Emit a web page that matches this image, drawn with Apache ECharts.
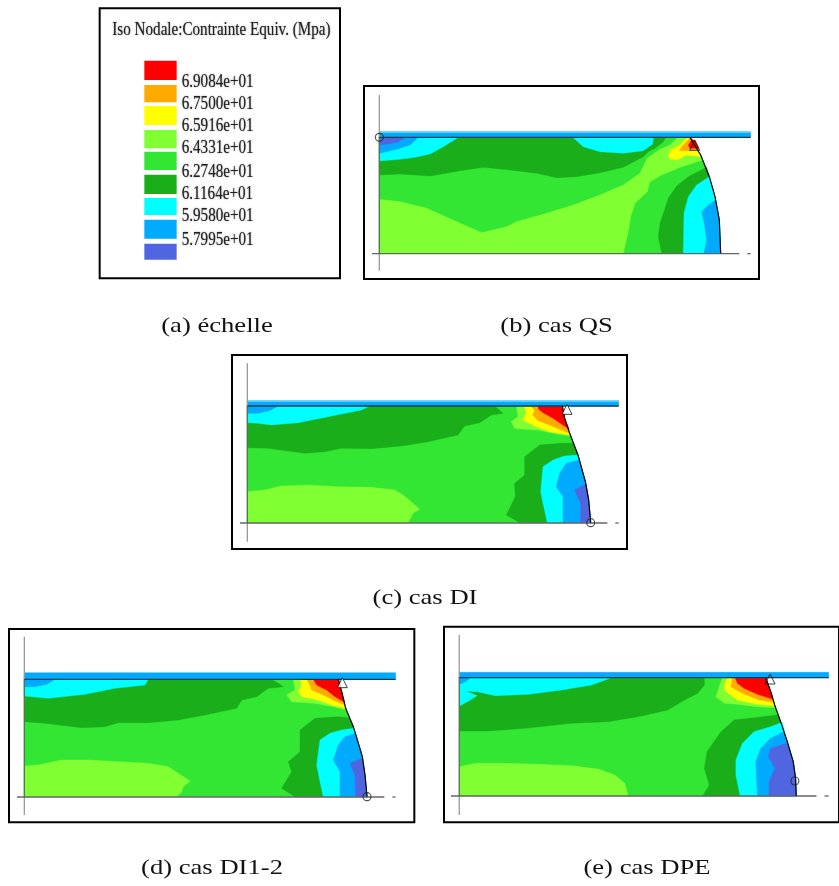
<!DOCTYPE html>
<html><head><meta charset="utf-8">
<style>html,body{margin:0;padding:0;background:#fff}#c{width:839px;height:886px}</style>
<script src="https://cdn.jsdelivr.net/npm/echarts@6/dist/echarts.min.js"></script>
</head><body><div id="c"></div>
<script>
const palette = {red:'#ff0000',orange:'#ffaa00',yellow:'#ffff00',lime:'#80ff33',green:'#33e633',dark:'#1aae1a',cyan:'#00ffff',blue:'#00aaff',indigo:'#5066e0'};
const legendTitle = 'Iso Nodale:Contrainte Equiv. (Mpa)';
const legendKeys = ['red','orange','yellow','lime','green','dark','cyan','blue','indigo'];
const legendTop = [182,255,318,390,455,524,594,659,731];
const legendBottom = [240,307,375,445,510,582,645,716,779];
const legendTicks = ['6.9084e+01','6.7500e+01','6.5916e+01','6.4331e+01','6.2748e+01','6.1164e+01','5.9580e+01','5.7995e+01'];
const legendTickY = [248,312,380,446,516,582,650,720];
const captions = ['(a) échelle','(b) cas QS','(c) cas DI','(d) cas DI1-2','(e) cas DPE'];

// Iso-stress regions, in reading units of each panel (drawn back to front)
const qsEdge = [[990,172],[1022,225],[1048,290],[1065,350],[1078,420],[1082,520]];
const qsBands = [
 ['green',[[58,172],[990,172],[1022,225],[1048,290],[1065,350],[1078,420],[1082,520],[58,520]]],
 ['lime',[[58,358],[120,365],[200,385],[290,425],[365,458],[440,440],[470,425],[560,400],[640,375],[720,345],[790,315],[840,280],[862,235],[900,208],[930,195],[955,172],[990,172],[1028,240],[960,262],[905,285],[870,305],[862,335],[825,370],[812,410],[806,450],[790,520],[58,520]]],
 ['dark',[[58,172],[918,172],[910,185],[885,205],[865,215],[850,230],[790,262],[720,278],[650,290],[590,293],[530,280],[450,270],[370,262],[300,272],[210,288],[120,282],[58,285]]],
 ['cyan',[[58,172],[295,172],[250,200],[210,222],[165,232],[120,238],[58,243]]],
 ['blue',[[58,172],[175,172],[150,195],[110,208],[58,220]]],
 ['indigo',[[58,172],[138,172],[115,185],[85,192],[58,195]]],
 ['cyan',[[638,172],[880,172],[878,192],[850,212],[790,220],[720,215],[670,200]]],
 ['yellow',[[925,228],[932,210],[960,195],[982,172],[992,172],[1025,230],[980,225],[955,238],[930,238]]],
 ['orange',[[958,212],[965,200],[982,182],[992,172],[995,172],[1018,208],[990,212]]],
 ['red',[[985,195],[995,180],[1005,180],[1017,205],[990,205]]],
 ['dark',[[905,520],[895,470],[900,430],[912,395],[925,355],[950,318],[985,290],[1040,262],[1048,290],[1065,350],[1078,420],[1082,520]]],
 ['cyan',[[970,520],[972,400],[985,350],[1010,315],[1048,290],[1065,350],[1078,420],[1082,520]]],
 ['blue',[[1032,520],[1040,480],[1032,425],[1025,395],[1045,375],[1066,360],[1078,420],[1082,520]]]
];
const diEdge = [[1003,168],[1010,205],[1025,250],[1050,315],[1072,395],[1082,450],[1088,518]];
const diBands = [
 ['green',[[58,168],[1003,168],[1010,205],[1025,250],[1050,315],[1072,395],[1082,450],[1088,518],[58,518]]],
 ['lime',[[58,425],[110,420],[160,408],[240,405],[330,410],[430,412],[500,420],[525,435],[555,460],[575,478],[555,490],[540,518],[58,518]]],
 ['dark',[[58,168],[800,168],[825,190],[790,195],[755,218],[710,228],[690,255],[600,275],[520,288],[430,296],[340,295],[290,305],[230,310],[120,295],[58,293]]],
 ['cyan',[[58,168],[425,168],[400,180],[300,200],[210,218],[130,225],[90,220],[58,218]]],
 ['blue',[[58,168],[150,168],[125,182],[90,190],[58,190]]],
 ['lime',[[865,168],[1003,168],[1010,205],[1027,258],[975,250],[930,240],[890,238],[860,235],[850,215],[870,200]]],
 ['yellow',[[888,168],[1003,168],[1010,205],[1026,255],[965,245],[920,228],[885,210],[895,190]]],
 ['orange',[[908,168],[1003,168],[1010,205],[1025,250],[1000,240],[965,225],[930,212],[915,195],[920,180]]],
 ['red',[[930,168],[1003,168],[1010,205],[1024,238],[1000,222],[975,205],[945,188],[932,178]]],
 ['dark',[[875,518],[835,495],[862,440],[860,400],[890,375],[890,320],[935,285],[1000,280],[1035,280],[1050,315],[1072,395],[1082,450],[1088,518]]],
 ['cyan',[[958,518],[945,460],[938,425],[945,350],[975,330],[1010,318],[1050,315],[1072,395],[1082,450],[1088,518]]],
 ['blue',[[1005,518],[1005,440],[985,410],[995,370],[1015,340],[1054,330],[1072,395],[1082,450],[1088,518]]],
 ['indigo',[[1058,518],[1058,460],[1040,420],[1075,402],[1082,450],[1088,518]]]
];
const di12Edge = [[1000,163],[1010,200],[1022,250],[1045,305],[1072,395],[1080,450],[1086,515]];
const di12Bands = [
 ['green',[[58,163],[1000,163],[1010,200],[1022,250],[1045,305],[1072,395],[1080,450],[1086,515],[58,515]]],
 ['lime',[[58,423],[100,420],[170,405],[250,405],[340,410],[430,415],[490,425],[520,445],[555,468],[535,485],[530,500],[515,515],[58,515]]],
 ['dark',[[58,163],[800,163],[835,185],[790,190],[755,215],[710,225],[695,250],[600,270],[520,285],[430,293],[340,293],[300,305],[230,308],[120,295],[58,290]]],
 ['cyan',[[58,163],[430,163],[420,180],[330,190],[240,208],[130,220],[58,213]]],
 ['blue',[[58,163],[150,163],[125,178],[90,185],[58,185]]],
 ['lime',[[865,163],[1000,163],[1010,200],[1024,255],[985,245],[930,235],[860,230],[845,210],[870,195]]],
 ['yellow',[[885,163],[1000,163],[1010,200],[1023,250],[980,240],[940,225],[890,215],[880,200],[890,180]]],
 ['orange',[[905,163],[1000,163],[1010,200],[1021,240],[990,228],[955,210],[920,195],[915,180]]],
 ['red',[[925,163],[1000,163],[1010,200],[1019,232],[990,215],[965,195],[935,180]]],
 ['dark',[[870,515],[830,490],[860,440],[850,410],[885,380],[885,315],[930,280],[1000,275],[1030,278],[1045,305],[1072,395],[1080,450],[1086,515]]],
 ['cyan',[[955,515],[945,470],[935,420],[945,345],[975,325],[1010,315],[1047,310],[1072,395],[1080,450],[1086,515]]],
 ['blue',[[1005,515],[1005,440],[985,405],[1000,360],[1020,335],[1052,325],[1072,395],[1080,450],[1086,515]]],
 ['indigo',[[1052,515],[1050,450],[1035,415],[1070,400],[1080,450],[1086,515]]]
];
const dpeEdge = [[985,158],[1002,205],[1012,240],[1030,290],[1050,350],[1068,410],[1075,460],[1077,513]];
const dpeBands = [
 ['green',[[62,158],[985,158],[1002,205],[1012,240],[1030,290],[1050,350],[1068,410],[1075,460],[1077,513],[62,513]]],
 ['lime',[[62,425],[110,415],[200,415],[300,418],[400,422],[480,432],[530,450],[560,475],[570,513],[62,513]]],
 ['dark',[[62,158],[800,158],[800,180],[780,205],[740,225],[690,255],[600,275],[510,290],[400,295],[260,310],[150,318],[62,318]]],
 ['cyan',[[62,158],[520,158],[460,180],[370,195],[270,208],[170,212],[115,200],[80,198],[115,212],[85,230],[62,243]]],
 ['blue',[[62,158],[95,158],[80,170],[62,178]]],
 ['lime',[[855,158],[985,158],[1002,205],[1014,248],[960,245],[900,238],[860,235],[835,215],[845,185]]],
 ['yellow',[[870,158],[985,158],[1002,205],[1013,242],[960,238],[900,225],[865,200],[860,185]]],
 ['orange',[[885,158],[985,158],[1002,205],[1010,232],[965,225],[915,205],[880,185]]],
 ['red',[[893,158],[985,158],[1002,205],[1005,222],[960,208],[920,190],[900,175]]],
 ['dark',[[795,513],[815,480],[800,430],[808,380],[850,320],[890,285],[950,278],[1020,270],[1030,290],[1050,350],[1068,410],[1075,460],[1077,513]]],
 ['cyan',[[908,513],[895,450],[895,405],[915,355],[950,320],[1000,305],[1035,292],[1050,350],[1068,410],[1075,460],[1077,513]]],
 ['blue',[[960,513],[955,410],[970,370],[1000,340],[1040,320],[1050,350],[1068,410],[1075,460],[1077,513]]],
 ['indigo',[[995,513],[995,470],[1013,430],[993,395],[1000,370],[1048,355],[1068,410],[1075,460],[1077,513]]]
];

// panels: crop origin, frame range, geometry of the part
const panels = [
 {o:[360,80], x:[12,1197], y:[18,597], bands:qsBands, edge:qsEdge, x0:58, top:172, bot:521, strip:[155,170], sheen:true, axisV:[45,572], end:1172, circle:[58,172], tri:[1004,196], triFill:'transparent'},
 {o:[228,350], x:[12,1197], y:[15,597], bands:diBands, edge:diEdge, x0:58, top:168, bot:519, strip:[152,167], sheen:true, axisV:[40,575], end:1172, circle:[1088,518], tri:[1017,178], triFill:'#fff'},
 {o:[5,625], x:[12,1228], y:[12,592], bands:di12Bands, edge:di12Edge, x0:58, top:163, bot:516, strip:[143,161], sheen:false, axisV:[35,570], end:1172, circle:[1086,515], tri:[1012,173], triFill:'#fff'},
 {o:[439,625], x:[15,1206], y:[5,592], bands:dpeBands, edge:dpeEdge, x0:61, top:158, bot:513, strip:[142,156], sheen:false, axisV:[30,570], end:1175, circle:[1073,468], tri:[998,162], triFill:'transparent'}
];
const legendPanel = {o:[95,0], x:[14,735], y:[25,835]};

const grids=[], xAxes=[], yAxes=[], series=[];
function addGrid(p){
  const i=grids.length;
  grids.push({show:true,borderColor:'#000',borderWidth:2,backgroundColor:'#fff',
    left:p.o[0]+p.x[0]/3, top:p.o[1]+p.y[0]/3, width:(p.x[1]-p.x[0])/3, height:(p.y[1]-p.y[0])/3});
  xAxes.push({type:'value',gridIndex:i,min:p.x[0],max:p.x[1],show:false});
  yAxes.push({type:'value',gridIndex:i,min:p.y[0],max:p.y[1],inverse:true,show:false});
  return i;
}
function fills(i,list){
  series.push({type:'custom',xAxisIndex:i,yAxisIndex:i,silent:true,animation:false,clip:false,
    data:list.map((_,k)=>[k]),
    renderItem:(params,api)=>{const b=list[api.value(0)];
      return {type:'polygon',shape:{points:b[1].map(q=>api.coord(q))},
        style:{fill:palette[b[0]]||b[0],stroke:palette[b[0]]||b[0],lineWidth:0.4}};}});
}
function strokes(i,list){
  series.push({type:'custom',xAxisIndex:i,yAxisIndex:i,silent:true,animation:false,clip:false,
    data:list.map((_,k)=>[k]),
    renderItem:(params,api)=>{const s=list[api.value(0)];
      return {type:'polyline',shape:{points:s.pts.map(q=>api.coord(q))},
        style:{fill:'none',stroke:s.c,lineWidth:s.w}};}});
}
panels.forEach(p=>{
  const i=addGrid(p);
  const plate=[['#00aaff',[[p.x0,p.strip[0]],[p.end,p.strip[0]],[p.end,p.top],[p.x0,p.top]]]];
  if(p.sheen) plate.push(['#66d8ff',[[p.x0,p.strip[0]],[p.end,p.strip[0]],[p.end,p.strip[0]+3],[p.x0,p.strip[0]+3]]]);
  fills(i,p.bands.concat(plate));
  strokes(i,[
    {pts:[[p.x0,p.axisV[0]],[p.x0,p.axisV[1]]],c:'#9a9a9a',w:1.3},
    {pts:[[36,p.bot],[1138,p.bot]],c:'#666',w:1.3},
    {pts:[[1162,p.bot],[p.end,p.bot]],c:'#666',w:1.3},
    {pts:[[p.x0,p.top],[p.end,p.top]],c:'#143c4c',w:1.3},
    {pts:[[p.x0,p.top],[p.x0,p.bot]],c:'#2a6a2a',w:0.8},
    {pts:p.edge,c:'#000',w:1.2}
  ]);
  series.push({type:'scatter',xAxisIndex:i,yAxisIndex:i,silent:true,animation:false,z:5,
    data:[p.circle],symbol:'circle',symbolSize:8,
    itemStyle:{color:'transparent',borderColor:'#222',borderWidth:1.1}});
  series.push({type:'scatter',xAxisIndex:i,yAxisIndex:i,silent:true,animation:false,z:5,
    data:[p.tri],symbol:'triangle',symbolSize:10,
    itemStyle:{color:p.triFill,borderColor:'#111',borderWidth:1}});
});
const li=addGrid(legendPanel);
series.push({type:'custom',xAxisIndex:li,yAxisIndex:li,silent:true,animation:false,
  data:legendKeys.map((_,k)=>[k]),
  renderItem:(params,api)=>{const k=api.value(0);
    const a=api.coord([148,legendTop[k]]),b=api.coord([245,legendBottom[k]]);
    return {type:'rect',shape:{x:a[0],y:a[1],width:b[0]-a[0],height:b[1]-a[1]},style:{fill:palette[legendKeys[k]]}};}});
const legendFont='18px "Liberation Serif"';
const soft={fill:'#222',textShadowColor:'rgba(60,60,60,0.7)',textShadowBlur:1.5};
series.push({type:'custom',xAxisIndex:li,yAxisIndex:li,silent:true,animation:false,
  data:legendTicks.map((_,k)=>[k]),
  renderItem:(params,api)=>{const k=api.value(0),a=api.coord([260,legendTickY[k]]);
    return {type:'text',x:a[0],y:a[1],scaleX:0.84,style:Object.assign({text:legendTicks[k],font:legendFont,textAlign:'left',textVerticalAlign:'middle'},soft)};}});
series.push({type:'custom',xAxisIndex:li,yAxisIndex:li,silent:true,animation:false,
  data:[[0]],
  renderItem:(params,api)=>{const a=api.coord([52,90]);
    return {type:'text',x:a[0],y:a[1],scaleX:0.84,style:Object.assign({text:legendTitle,font:legendFont,textAlign:'left',textVerticalAlign:'middle'},soft)};}});

const capCenter=[[217,326],[556.5,326],[425,598],[212,868],[647,868]];
const graphic=captions.map((t,k)=>({type:'text',x:capCenter[k][0],y:capCenter[k][1],scaleX:1.21,silent:true,
  style:{text:t,font:'22px "Liberation Serif"',fill:'#111',textAlign:'center',textVerticalAlign:'middle'}}));

const chart=echarts.init(document.getElementById('c'),null,{renderer:'canvas'});
chart.setOption({animation:false,backgroundColor:'#fff',graphic,grid:grids,xAxis:xAxes,yAxis:yAxes,series,tooltip:{show:false}});
</script></body></html>
